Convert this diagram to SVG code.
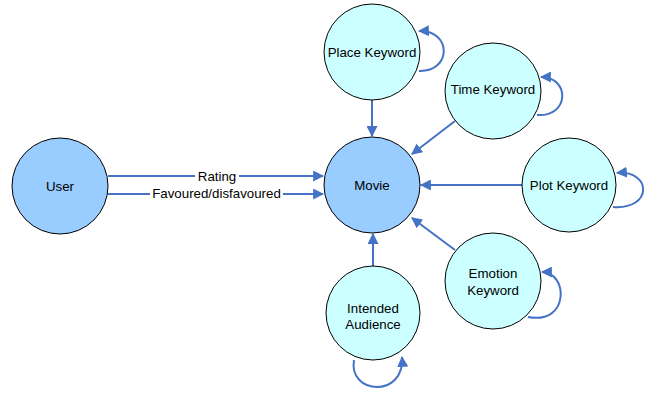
<svg xmlns="http://www.w3.org/2000/svg" width="654" height="398" viewBox="0 0 654 398">
<style>
.n{stroke:#000;stroke-width:1}
.main{fill:#99CCFF}
.kw{fill:#CCFFFF}
text{font-family:"Liberation Sans",Arial,sans-serif;font-size:13.3px;fill:#000;text-anchor:middle;dominant-baseline:central}
.c{fill:none;stroke:#4472C4;stroke-width:2;marker-end:url(#a)}
.lbl{fill:#fff}
</style>
<defs>
<marker id="a" viewBox="0 0 10 10" refX="9" refY="5" markerWidth="5.5" markerHeight="5.5" orient="auto" markerUnits="strokeWidth">
<path d="M0,0 L10,5 L0,10 z" fill="#4472C4"/>
</marker>
</defs>
<rect width="654" height="398" fill="#fff"/>
<g id="connectors">
<path class="c" d="M108,176 L323,176"/>
<path class="c" d="M108,194 L323,194"/>
<rect class="lbl" x="195" y="169" width="44" height="14"/>
<text x="217" y="176">Rating</text>
<rect class="lbl" x="150" y="186" width="133" height="15"/>
<text x="216.5" y="193">Favoured/disfavoured</text>
<path class="c" d="M372,100 L372,136"/>
<path class="c" d="M455,121 L412,154"/>
<path class="c" d="M522,185 L421,185"/>
<path class="c" d="M455,250 L412,218"/>
<path class="c" d="M373,266 L373,234"/>
<path class="c" d="M419,71 C452,72 452,30 419,31"/>
<path class="c" d="M537,115 C570,117 570,77 541,77"/>
<path class="c" d="M613,207 C653,210 652,170 617,173"/>
<path class="c" d="M528,317 C570,325 568,272 542,272"/>
<path class="c" d="M354,360 C348,395 405,398 402,357"/>
</g>
<g id="user"><circle class="n main" cx="60" cy="186" r="48"/><text x="60" y="186">User</text></g>
<g id="movie"><circle class="n main" cx="372" cy="185" r="48"/><text x="372" y="185">Movie</text></g>
<g id="place"><circle class="n kw" cx="372" cy="52" r="48"/><text x="372" y="52">Place Keyword</text></g>
<g id="time"><circle class="n kw" cx="493" cy="91" r="48"/><text x="493" y="89">Time Keyword</text></g>
<g id="plot"><circle class="n kw" cx="569" cy="185" r="47"/><text x="569" y="185">Plot Keyword</text></g>
<g id="emotion"><circle class="n kw" cx="493" cy="281" r="48"/><text x="493" y="273">Emotion</text><text x="493" y="290">Keyword</text></g>
<g id="audience"><circle class="n kw" cx="373" cy="313" r="47"/><text x="373" y="308">Intended</text><text x="373" y="324">Audience</text></g>
</svg>
